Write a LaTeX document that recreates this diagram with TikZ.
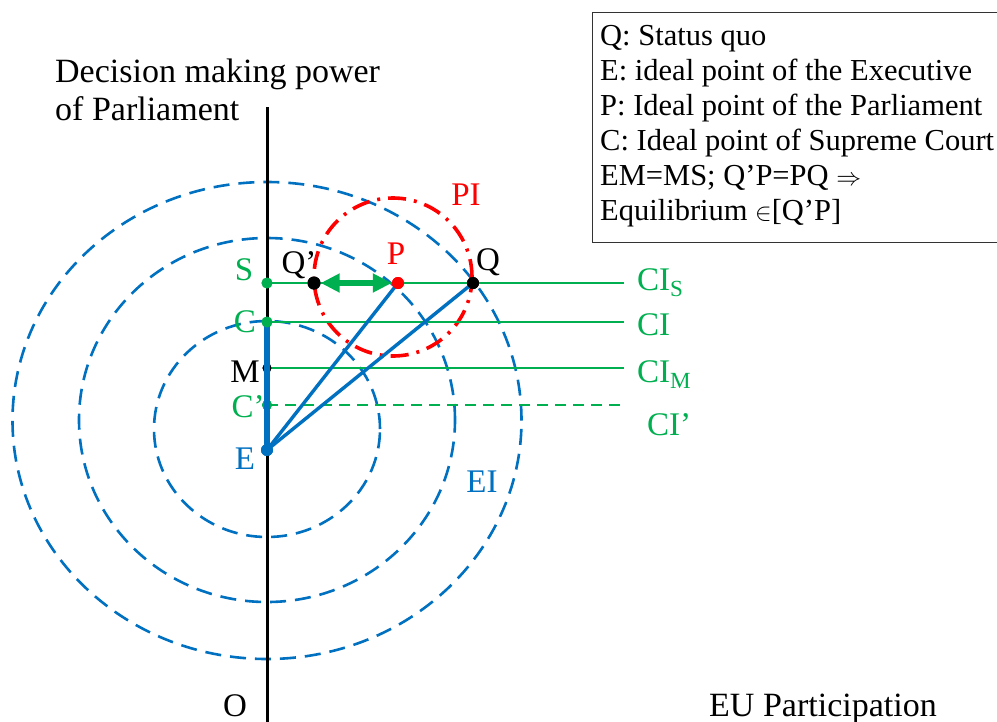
\documentclass[tikz,border=0pt]{standalone}
\usepackage{fontspec}
\setmainfont{Liberation Serif}
\usetikzlibrary{arrows.meta}
\definecolor{pgreen}{HTML}{00B050}
\definecolor{pblue}{HTML}{0070C0}
\definecolor{pred}{HTML}{FF0000}
\begin{document}
\begin{tikzpicture}[x=1pt,y=-1pt,
  ellip/.style={pblue, line width=2.6pt, dash pattern=on 16pt off 9pt},
  pidash/.style={pred, line width=3.6pt, dash pattern=on 18pt off 8pt on 3pt off 8pt},
  gline/.style={pgreen, line width=2.6pt},
  gdash/.style={gline, dash pattern=on 11pt off 7pt},
  bline/.style={pblue, line width=3.4pt},
  bthick/.style={pblue, line width=5.5pt},
  garrow/.style={pgreen, line width=6pt, {Triangle[length=19pt,width=18pt]}-{Triangle[length=19pt,width=18pt]}},
  dot/.style={circle, inner sep=0pt, minimum size=11pt},
  lbl/.style={inner sep=0pt, anchor=base, font=\fontsize{33}{38}\selectfont},
  legtxt/.style={inner sep=0pt, anchor=base west, font=\fontsize{30.5}{35}\selectfont},
  bigtxt/.style={inner sep=0pt, anchor=base west, font=\fontsize{34}{38}\selectfont}
]
\useasboundingbox (0,0) rectangle (997,721);
\fill[white] (0,0) rectangle (997,721);

% indifference ellipses of E
\draw[ellip] (267,420.5) ellipse [x radius=254.5pt, y radius=238.5pt];
\draw[ellip] (267,420) ellipse [x radius=188pt, y radius=182pt];
\draw[ellip] (267,429) ellipse [x radius=113pt, y radius=108pt];
% PI circle
\draw[pidash] (393,277) circle [radius=79pt];

% points
\node[dot, fill=pgreen] (S) at (267,283) {};
\node[dot, fill=pgreen] (C) at (267,322) {};
\node[dot, fill=black, minimum size=9pt] (M) at (267,368) {};
\node[dot, fill=pgreen, minimum size=10pt] (Cp) at (267,405) {};
\node[dot, fill=pblue, minimum size=12pt] (E) at (267,450) {};
\node[dot, fill=black, minimum size=13pt] (Qp) at (314,283) {};
\node[dot, fill=pred, minimum size=12pt] (P) at (398,283) {};
\node[dot, fill=black, minimum size=12pt] (Q) at (473,283) {};
\coordinate (endS) at (624,283);
\coordinate (endC) at (624,322);
\coordinate (endM) at (624,368);
\coordinate (endCp) at (624,405);
\coordinate (axtop) at (267,107);
\coordinate (axbot) at (267,725);

% CI lines
\draw[gline] (S.center) -- (endS);
\draw[gline] (C.center) -- (endC);
\draw[gline] (M.center) -- (endM);
\draw[gdash] (Cp.center) -- (endCp);

% E lines
\draw[bline] (E.center) -- (P.center);
\draw[bline] (E.center) -- (Q.center);

% axis
\draw[black, line width=3pt] (axtop) -- (axbot);
\node[dot, fill=black, minimum size=9pt] at (M) {};
\node[dot, fill=pgreen, minimum size=10pt] at (Cp) {};
\draw[bthick] (C.center) -- (E.center);
\node[dot, fill=pgreen] at (S) {};
\node[dot, fill=pgreen] at (C) {};
\node[dot, fill=pblue, minimum size=12pt] at (E) {};

% arrow Q'P
\node[dot, fill=pred, minimum size=12pt] at (P) {};
\draw[garrow] (Qp) -- (P);
\node[dot, fill=black, minimum size=13pt] at (Qp) {};
\node[dot, fill=black, minimum size=12pt] at (Q) {};

% labels
\node[lbl, text=pgreen] (Slbl) at (244,280) {S};
\node[lbl, text=pgreen] (Clbl) at (245,332) {C};
\node[lbl, text=black] (Mlbl) at (245,382) {M};
\node[lbl, text=pgreen] (Cplbl) at (248,417) {C’};
\node[lbl, text=pblue] (Elbl) at (245,469) {E};
\node[lbl, text=black] (Qplbl) at (299,273) {Q’};
\node[lbl, text=pred] (Plbl) at (396,264) {P};
\node[lbl, text=black] (Qlbl) at (488,270) {Q};
\node[lbl, text=pred] (PIlbl) at (466,205) {PI};
\node[lbl, text=pblue] (EIlbl) at (482,492) {EI};
\node[lbl, text=pgreen, anchor=base west] (CIS) at (637,290) {CI\textsubscript{S}};
\node[lbl, text=pgreen, anchor=base west] (CI) at (637,335) {CI};
\node[lbl, text=pgreen, anchor=base west] (CIM) at (637,382) {CI\textsubscript{M}};
\node[lbl, text=pgreen, anchor=base west] (CIp) at (647,435) {CI’};
\node[lbl] (O) at (235,716) {O};
\node[bigtxt] (EU) at (709,716) {EU Participation};
\node[bigtxt] (t1) at (55,82) {Decision making power};
\node[bigtxt] (t2) at (55,120) {of Parliament};

% legend
\node[draw=black!80, line width=1.4pt, anchor=north west, minimum width=420pt, minimum height=230pt, inner sep=0pt] (legend) at (592,12) {};
\node[legtxt] (l1) at (600,45) {Q: Status quo};
\node[legtxt] (l2) at (600,80) {E: ideal point of the Executive};
\node[legtxt] (l3) at (600,115) {P: Ideal point of the Parliament};
\node[legtxt] (l4) at (600,150) {C: Ideal point of Supreme Court};
\node[legtxt] (l5) at (600,185) {EM=MS; Q’P=PQ $\Rightarrow$};
\node[legtxt] (l6) at (600,220) {Equilibrium $\in$[Q’P]};
\end{tikzpicture}
\end{document}
